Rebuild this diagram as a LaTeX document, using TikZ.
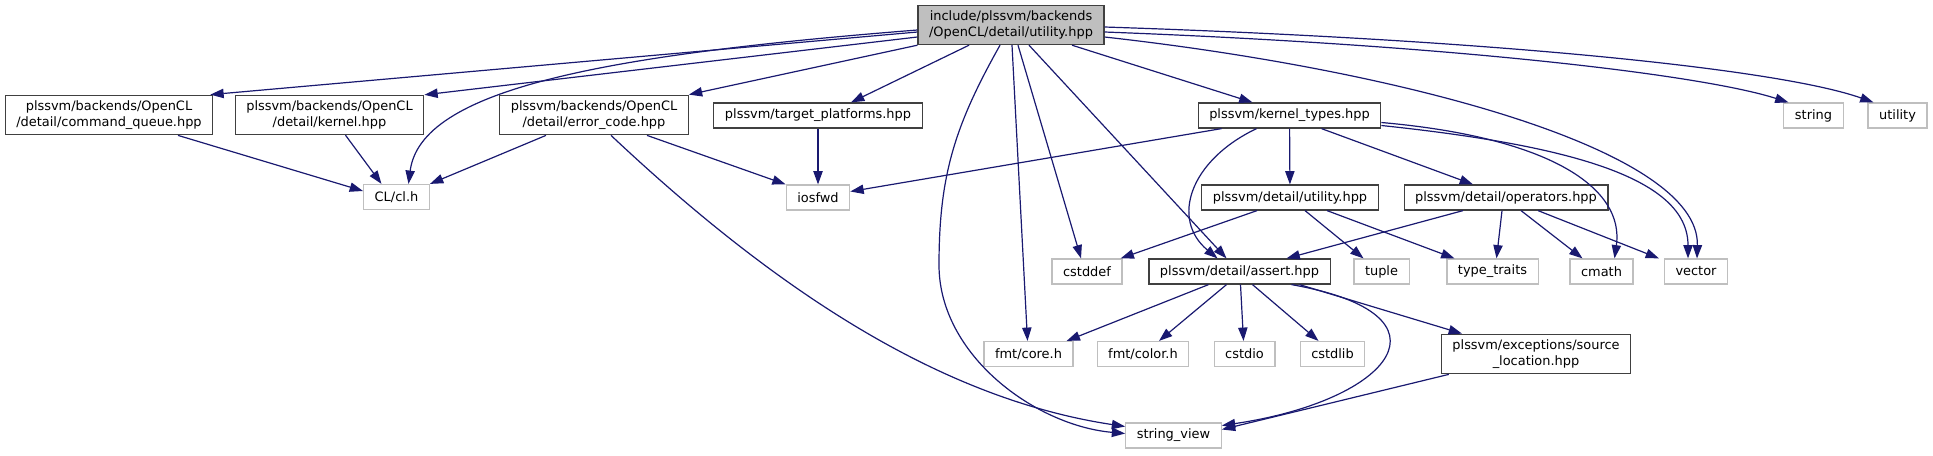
\documentclass[tikz,border=0pt]{standalone}
\usepackage{fontspec}
\setmainfont{DejaVu Sans}
\usepackage{xcolor}
\usepackage{tikz}
\usetikzlibrary{arrows.meta,calc}
\definecolor{edgeblue}{HTML}{191970}
\definecolor{sysgray}{HTML}{BFBFBF}
\definecolor{docgray}{HTML}{404040}

\begin{document}
\begin{tikzpicture}[x=0.75pt, y=-0.75pt, font=\fontsize{9.7}{12}\selectfont,
    box/.style={draw, line width=0.9pt, inner xsep=8.3pt, inner ysep=4pt, minimum height=18.75pt, align=center},
    doc/.style={box, draw=docgray, fill=white},
    sys/.style={box, draw=sysgray, fill=white},
    cur/.style={box, draw=docgray, fill=sysgray},
    dep/.style={edgeblue, line width=0.9pt, -{Triangle[length=10pt,width=7pt]}}]
        \useasboundingbox (0,0) rectangle (1933,455);
        \node[cur] (M) at (1011,25) {include/plssvm/backends\\/OpenCL/detail/utility.hpp};
        \foreach \n/\x/\y/\lbl in {cq/109/115/{plssvm/backends/OpenCL\\/detail/command\_queue.hpp},
            kern/329.5/115/{plssvm/backends/OpenCL\\/detail/kernel.hpp},
            err/594/115/{plssvm/backends/OpenCL\\/detail/error\_code.hpp},
            tp/818/115.5/{plssvm/target\_platforms.hpp}, kt/1289.5/115.5/{plssvm/kernel\_types.hpp},
            du/1290/197.5/{plssvm/detail/utility.hpp}, op/1506/197.5/{plssvm/detail/operators.hpp},
            as/1239.5/271.5/{plssvm/detail/assert.hpp},
            sl/1536/354/{plssvm/exceptions/source\\\_location.hpp}} {
          \node[doc] (\n) at (\x,\y) {\lbl};}
        \foreach \n/\x/\y/\lbl in {cl/396.5/197/{CL/cl.h}, ios/818/197.5/iosfwd,
            str/1813.5/115.5/string, util/1897.5/115.5/utility,
            cdef/1087/271.5/cstddef, tup/1381.5/271.5/tuple, tt/1492.5/271.5/{type\_traits},
            cm/1601.5/271.5/cmath, vec/1696/271.5/vector,
            fc/1028.5/354/{fmt/core.h}, fcol/1143/354/{fmt/color.h}, cio/1244.5/354/cstdio,
            clib/1332.5/354/cstdlib, sv/1173.5/435.5/{string\_view}} {
          \node[sys] (\n) at (\x,\y) {\lbl};}
        \draw[dep] ($(M.west)+(0,7)$) -- ($(cq.north east)+(-3,0)$);
        \draw[dep] ($(M.west)+(0,12)$) -- (kern.north east);
        \draw[dep] ($(M.west)+(0,5)$) .. controls +(-318,25) and +(12,-94) .. ($(cl.north)+(12,0)$);
        \draw[dep] (M.south west) -- (err.north east);
        \draw[dep] ($(M.south)+(-42,0)$) -- ($(tp.north)+(33,0)$);
        \draw[dep] ($(M.south)+(61,0)$) -- ($(kt.north)+(-37,0)$);
        \draw[dep] ($(M.south)+(-11,0)$) .. controls +(-45,80) and +(0,-90) .. (939,265)
          .. controls +(0,90) and +(-90,-8) .. ($(sv.west)+(0,-2)$);
        \draw[dep] ($(M.south)+(1,0)$) -- ($(fc.north)+(-1,0)$);
        \draw[dep] ($(M.south)+(7,0)$) -- ($(cdef.north)+(-6,0)$);
        \draw[dep] ($(M.south)+(18,0)$) -- ($(as.north)+(-13,0)$);
        \draw[dep] ($(M.east)+(0,2)$) .. controls +(396,13) and +(-93,-33) .. ($(util.north)+(-24,0)$);
        \draw[dep] ($(M.east)+(0,7)$) .. controls +(346,13) and +(-88,-28) .. ($(str.north)+(-25,0)$);
        \draw[dep] ($(M.east)+(0,12)$) .. controls +(296,33) and +(3,-109) .. ($(vec.north)+(1,0)$);
        \draw[dep] ($(cq.south)+(69,0)$) -- ($(cl.west)+(0,-6)$);
        \draw[dep] ($(kern.south)+(16,0)$) -- ($(cl.north)+(-15,0)$);
        \draw[dep] ($(err.south)+(-48,0)$) -- (cl.north east);
        \draw[dep] ($(err.south)+(53,0)$) -- (ios.north west);
        \draw[dep] ($(err.south)+(17,0)$) .. controls +(170,160) and +(-180,-27) .. ($(sv.west)+(0,-9)$);
        \draw[dep] (tp) -- (ios);
        \draw[dep] ($(kt.south)+(-68,0)$) -- ($(ios.east)+(0,-6)$);
        \draw[dep] ($(kt.south)+(-33,0)$) .. controls +(-67,32) and +(-47,-39) .. ($(as.north)+(-22,0)$);
        \draw[dep] (kt) -- (du);
        \draw[dep] ($(kt.south)+(32,0)$) -- ($(op.north)+(-33,0)$);
        \draw[dep] ($(kt.east)+(0,7)$) .. controls +(170,15) and +(10,-70) .. ($(cm.north)+(13,0)$);
        \draw[dep] ($(kt.east)+(0,10)$) .. controls +(190,20) and +(0,-80) .. ($(vec.north)+(-8,0)$);
        \draw[dep] ($(du.south)+(-33,0)$) -- ($(cdef.north east)+(-2,0)$);
        \draw[dep] ($(du.south)+(15,0)$) -- ($(tup.north)+(-18,0)$);
        \draw[dep] ($(du.south)+(37,0)$) -- ($(tt.north)+(-38,0)$);
        \draw[dep] ($(op.south)+(-43,0)$) -- ($(as.north)+(47,0)$);
        \draw[dep] ($(op.south)+(-4,0)$) -- ($(tt.north)+(4,0)$);
        \draw[dep] ($(op.south)+(15,0)$) -- ($(cm.north)+(-19,0)$);
        \draw[dep] ($(op.south)+(32,0)$) -- ($(vec.north)+(-37,0)$);
        \draw[dep] ($(as.south)+(-31,0)$) -- ($(fc.north east)+(-7,0)$);
        \draw[dep] ($(as.south)+(-13,0)$) -- ($(fcol.north)+(16,0)$);
        \draw[dep] ($(as.south)+(1,0)$) -- ($(cio.north)+(-1,0)$);
        \draw[dep] ($(as.south)+(13,0)$) -- ($(clib.north)+(-14,0)$);
        \draw[dep] ($(as.south)+(60,0)$) -- ($(sl.north)+(-74,0)$);
        \draw[dep] ($(as.south)+(52,0)$) .. controls +(170,30) and +(170,-25) .. ($(sv.east)+(0,-10)$);
        \draw[dep] ($(sl.south west)+(8,0)$) -- ($(sv.east)+(0,-6)$);
      \end{tikzpicture}
\end{document}
